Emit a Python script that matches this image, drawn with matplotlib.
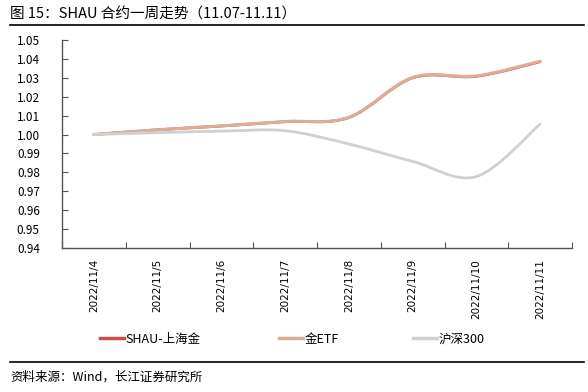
import numpy as np
import matplotlib
matplotlib.use("Agg")
import matplotlib.pyplot as plt
from matplotlib.path import Path
from matplotlib.patches import PathPatch
from matplotlib.lines import Line2D

plt.rcParams['font.family'] = ['Noto Sans CJK SC', 'DejaVu Sans']

# data
dates = ["2022/11/4", "2022/11/5", "2022/11/6", "2022/11/7",
         "2022/11/8", "2022/11/9", "2022/11/10", "2022/11/11"]
shau = [1.000, 1.0025, 1.0045, 1.0068, 1.0090, 1.0300, 1.0308, 1.0385]
gold_etf = [1.000, 1.0025, 1.0046, 1.0069, 1.0091, 1.0302, 1.0310, 1.0388]
hs300 = [1.000, 1.0010, 1.0018, 1.0020, 0.9950, 0.9858, 0.9778, 1.0055]
yticks = [0.94, 0.95, 0.96, 0.97, 0.98, 0.99, 1.00, 1.01, 1.02, 1.03, 1.04, 1.05]


def smooth_path(xs, ys):
    # excel-like smoothed line drawn as cubic bezier segments
    pts = np.column_stack([xs, ys])
    verts = [pts[0]]
    codes = [Path.MOVETO]
    n = len(pts)
    for i in range(n - 1):
        p0 = pts[max(i - 1, 0)]
        p1 = pts[i]
        p2 = pts[i + 1]
        p3 = pts[min(i + 2, n - 1)]
        c1 = p1 + (p2 - p0) / 6
        c2 = p2 - (p3 - p1) / 6
        verts += [c1, c2, p2]
        codes += [Path.CURVE4] * 3
    return Path(verts, codes)


fig = plt.figure(figsize=(5.88, 3.92), dpi=100)
ax = fig.add_axes([62 / 588, 1 - 248 / 392, 510 / 588, 208 / 392])

x = np.arange(len(dates)) + 0.5
series = [("SHAU-上海金", shau, "#C9504B", 2.0),
          ("金ETF", gold_etf, "#DDAD98", 2.2),
          ("沪深300", hs300, "#D0D0D0", 2.0)]
legend_x = [100, 279, 413]  # left edge of each legend entry, px
for (name, vals, col, lw), lx in zip(series, legend_x):
    ax.add_patch(PathPatch(smooth_path(x, vals), facecolor="none",
                           edgecolor=col, lw=lw, capstyle="round"))
    h = Line2D([], [], color=col, lw=2.5, label=name)
    fig.legend(handles=[h], loc="center left", frameon=False,
               bbox_to_anchor=(lx / 588, 1 - 339 / 392), fontsize=9,
               handlelength=1.9, handletextpad=0.15, borderpad=0, borderaxespad=0)

ax.set_xlim(0, len(dates))
ax.set_ylim(0.94, 1.05)
ax.set_yticks(yticks)
ax.set_yticklabels([f"{v:.2f}" for v in yticks], fontsize=8.5)
ax.set_xticks(np.arange(len(dates) + 1))
ax.set_xticklabels([])
ax.set_xticks(x, minor=True)
ax.set_xticklabels(dates, minor=True, rotation=90, fontsize=7.5,
                   va="top", ha="center", family="DejaVu Sans")
ax.tick_params(axis="x", which="minor", length=0, pad=8)
ax.tick_params(axis="x", which="major", direction="in", length=4, color="#555555")
ax.tick_params(axis="y", direction="in", length=4, color="#555555", pad=16)
for s in ["top", "right"]:
    ax.spines[s].set_visible(False)
for s in ["left", "bottom"]:
    ax.spines[s].set_color("#555555")
    ax.spines[s].set_linewidth(1.0)

fig.text(10 / 588, 1 - 15 / 392, "图 15：SHAU 合约一周走势（11.07-11.11）",
         fontsize=10.5, va="center", ha="left")
fig.add_artist(Line2D([10 / 588, 584 / 588], [1 - 24.5 / 392] * 2, color="black", lw=1.2))
fig.add_artist(Line2D([10 / 588, 584 / 588], [1 - 361.5 / 392] * 2, color="black", lw=1.2))
fig.text(10 / 588, 1 - 377 / 392, "资料来源：Wind，长江证券研究所",
         fontsize=9, va="center", ha="left")

fig.savefig("out.png", dpi=100)
